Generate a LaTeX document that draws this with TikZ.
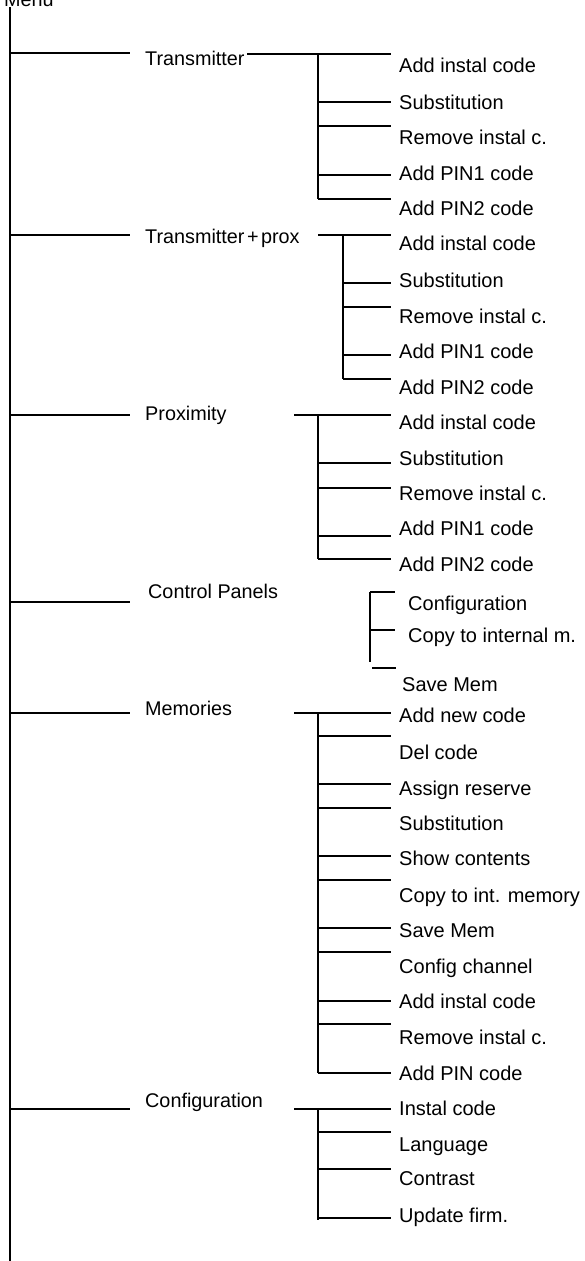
\documentclass[tikz,border=0pt]{standalone}
\usepackage{fontspec}
\setmainfont{Liberation Sans}
\begin{document}
\begin{tikzpicture}[x=1pt,y=-1pt,
  trunk/.style={line width=2pt},
  br/.style={line width=1.3pt},
  lvlone/.style={anchor=base west,inner sep=0pt,font=\fontsize{19.8}{22}\selectfont},
  lvltwo/.style={anchor=base west,inner sep=0pt,font=\fontsize{20}{22}\selectfont}]
\useasboundingbox (0,0) rectangle (585,1261);
% root
\node[lvlone] (menu) at (4,6) {Menu};
\coordinate (root) at (10,7);
\coordinate (rootend) at (10,1261);
\draw[trunk] (root) -- (rootend);

% ---------- level 1 ----------
\foreach \nm/\ly/\bx/\by/\txt in {
  tr/53/145/65/Transmitter,
  tp/235/145/243/Transmitter\kern2.5pt+\kern2.5pt prox,
  px/415/145/420/Proximity,
  cp/602/148/598/Control Panels,
  me/713/145/715/Memories,
  cf/1109/145/1107/Configuration}{
  \coordinate (\nm-a) at (10,\ly);
  \coordinate (\nm-b) at (130,\ly);
  \draw[br] (\nm-a) -- (\nm-b);
  \node[lvlone] (\nm) at (\bx,\by) {\txt};
}

% ---------- Transmitter ----------
\coordinate (tr-s) at (247,54); \coordinate (tr-e) at (391,54);
\coordinate (tr-v1) at (318,54); \coordinate (tr-v2) at (318,199);
\draw[br] (tr-s) -- (tr-e);
\draw[br] (tr-v1) -- (tr-v2);
\foreach \y [count=\i] in {102,126,175,199}{
  \coordinate (trb\i) at (318,\y); \coordinate (tre\i) at (391,\y);
  \draw[br] (trb\i) -- (tre\i);}
\foreach \y/\t [count=\i] in {72/Add instal code,109/Substitution,144/Remove instal c.,180/Add PIN1 code,215/Add PIN2 code}
  \node[lvltwo] (trl\i) at (399,\y) {\t};

% ---------- Transmitter+prox ----------
\coordinate (tp-s) at (318,235); \coordinate (tp-e) at (391,235);
\coordinate (tp-v1) at (343,235); \coordinate (tp-v2) at (343,379);
\draw[br] (tp-s) -- (tp-e);
\draw[br] (tp-v1) -- (tp-v2);
\foreach \y [count=\i] in {283,307,355,379}{
  \coordinate (tpb\i) at (343,\y); \coordinate (tpe\i) at (391,\y);
  \draw[br] (tpb\i) -- (tpe\i);}
\foreach \y/\t [count=\i] in {250/Add instal code,287/Substitution,323/Remove instal c.,358/Add PIN1 code,394/Add PIN2 code}
  \node[lvltwo] (tpl\i) at (399,\y) {\t};

% ---------- Proximity ----------
\coordinate (px-s) at (294,415); \coordinate (px-e) at (391,415);
\coordinate (px-v1) at (318,415); \coordinate (px-v2) at (318,559);
\draw[br] (px-s) -- (px-e);
\draw[br] (px-v1) -- (px-v2);
\foreach \y [count=\i] in {463,488,536,559}{
  \coordinate (pxb\i) at (318,\y); \coordinate (pxe\i) at (391,\y);
  \draw[br] (pxb\i) -- (pxe\i);}
\foreach \y/\t [count=\i] in {429/Add instal code,465/Substitution,500/Remove instal c.,535/Add PIN1 code,571/Add PIN2 code}
  \node[lvltwo] (pxl\i) at (399,\y) {\t};

% ---------- Control Panels ----------
\coordinate (cp-v1) at (370,592); \coordinate (cp-v2) at (370,662);
\draw[br] (cp-v1) -- (cp-v2);
\coordinate (cpe1) at (395,592); \draw[br] (cp-v1) -- (cpe1);
\coordinate (cpb2) at (370,630); \coordinate (cpe2) at (395,630); \draw[br] (cpb2) -- (cpe2);
\coordinate (cpb3) at (372,668); \coordinate (cpe3) at (396,668); \draw[br] (cpb3) -- (cpe3);
\node[lvltwo] (cpl1) at (408,610) {Configuration};
\node[lvltwo] (cpl2) at (408,642) {Copy to internal m.};
\node[lvltwo] (cpl3) at (402,691) {Save Mem};

% ---------- Memories ----------
\coordinate (me-s) at (294,713); \coordinate (me-e) at (391,713);
\coordinate (me-v1) at (318,713); \coordinate (me-v2) at (318,1073);
\draw[br] (me-s) -- (me-e);
\draw[br] (me-v1) -- (me-v2);
\foreach \y [count=\i] in {736,784,808,856,880,928,952,1001,1024,1073}{
  \coordinate (meb\i) at (318,\y); \coordinate (mee\i) at (391,\y);
  \draw[br] (meb\i) -- (mee\i);}
\foreach \y/\t [count=\i] in {722/Add new code,759/Del code,795/Assign reserve,830/Substitution,865/Show contents,902/Copy to int. memory,937/Save Mem,973/Config channel,1008/Add instal code,1044/Remove instal c.,1080/Add PIN code}
  \node[lvltwo] (mel\i) at (399,\y) {\t};

% ---------- Configuration ----------
\coordinate (cf-s) at (294,1109); \coordinate (cf-e) at (391,1109);
\coordinate (cf-v1) at (318,1109); \coordinate (cf-v2) at (318,1220);
\draw[br] (cf-s) -- (cf-e);
\draw[br] (cf-v1) -- (cf-v2);
\foreach \y [count=\i] in {1132,1169,1218}{
  \coordinate (cfb\i) at (318,\y); \coordinate (cfe\i) at (391,\y);
  \draw[br] (cfb\i) -- (cfe\i);}
\foreach \y/\t [count=\i] in {1115/Instal code,1151/Language,1185/Contrast,1222/Update firm.}
  \node[lvltwo] (cfl\i) at (399,\y) {\t};
\end{tikzpicture}
\end{document}
